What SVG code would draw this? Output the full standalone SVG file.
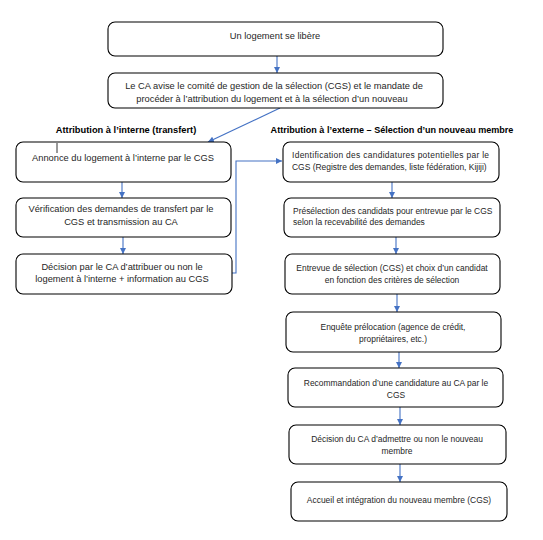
<svg xmlns="http://www.w3.org/2000/svg" width="543" height="540" viewBox="0 0 543 540">
<defs>
<marker id="ah" markerUnits="userSpaceOnUse" markerWidth="6" markerHeight="6" viewBox="0 0 6 6" refX="6" refY="3" orient="auto">
<path d="M0,0 L6,3 L0,6 z" fill="#4472C4"/>
</marker>
</defs>
<style>
.box{fill:#fff;stroke:#000;stroke-width:1.1}
.t{font-family:"Liberation Sans",Arial,sans-serif;font-size:9.3px;fill:#262626}
.s{font-size:8.45px}
.c{text-anchor:middle}
.h{font-family:"Liberation Sans",Arial,sans-serif;font-size:9.3px;font-weight:bold;fill:#000;text-anchor:middle}
.con{fill:none;stroke:#4472C4;stroke-width:1.1;marker-end:url(#ah)}
</style>
<rect width="543" height="540" fill="#fff"/>
<g id="connectors">
<line class="con" x1="277" y1="56" x2="277" y2="73"/>
<line class="con" x1="280" y1="108" x2="208" y2="142"/>
<line class="con" x1="122" y1="182" x2="122" y2="198"/>
<line class="con" x1="123" y1="237" x2="123" y2="254"/>
<polyline class="con" points="232,273 236,273 236,161 282,161"/>
<line class="con" x1="392" y1="182" x2="392" y2="198"/>
<line class="con" x1="396" y1="237" x2="396" y2="254"/>
<line class="con" x1="397" y1="294" x2="397" y2="312"/>
<line class="con" x1="399" y1="352" x2="399" y2="368"/>
<line class="con" x1="400" y1="407" x2="400" y2="425"/>
<line class="con" x1="400" y1="464" x2="400" y2="482"/>
</g>
<g id="labels">
<text class="h" x="126" y="133">Attribution à l’interne (transfert)</text>
<text class="h" x="392" y="133" style="font-size:9.05px">Attribution à l’externe – Sélection d’un nouveau membre</text>
</g>
<g id="n1">
<rect class="box" x="108" y="22" width="335" height="34" rx="7"/>
<text class="t c" x="275" y="39">Un logement se libère</text>
</g>
<g id="n2">
<rect class="box" x="108" y="73" width="335" height="35" rx="7"/>
<text class="t c" x="274" y="89">Le CA avise le comité de gestion de la sélection (CGS) et le mandate de</text>
<text class="t c" x="272" y="102">procéder à l’attribution du logement et à la sélection d’un nouveau</text>
</g>
<g id="l1">
<rect class="box" x="16" y="142" width="215" height="40" rx="7"/>
<text class="t c" x="123" y="161">Annonce du logement à l’interne par le CGS</text>
<line x1="57" y1="143" x2="57" y2="153" stroke="#000" stroke-width="0.8"/>
</g>
<g id="l2">
<rect class="box" x="16" y="198" width="215" height="39" rx="7"/>
<text class="t c" x="121" y="212">Vérification des demandes de transfert par le</text>
<text class="t c" x="121" y="225">CGS et transmission au CA</text>
</g>
<g id="l3">
<rect class="box" x="16" y="254" width="216" height="40" rx="7"/>
<text class="t c" x="122" y="270">Décision par le CA d’attribuer ou non le</text>
<text class="t c" x="122" y="282">logement à l’interne + information au CGS</text>
</g>
<g id="r1">
<rect class="box" x="283" y="142" width="216" height="40" rx="7"/>
<text class="t s" x="292" y="158" textLength="197" lengthAdjust="spacing">Identification des candidatures potentielles par le</text>
<text class="t s" x="292" y="170">CGS (Registre des demandes, liste fédération, Kijiji)</text>
</g>
<g id="r2">
<rect class="box" x="284" y="198" width="216" height="39" rx="7"/>
<text class="t s" x="293" y="214">Présélection des candidats pour entrevue par le CGS</text>
<text class="t s" x="293" y="225">selon la recevabilité des demandes</text>
</g>
<g id="r3">
<rect class="box" x="285" y="254" width="215" height="40" rx="7"/>
<text class="t s c" x="392" y="271">Entrevue de sélection (CGS) et choix d’un candidat</text>
<text class="t s c" x="392" y="283">en fonction des critères de sélection</text>
</g>
<g id="r4">
<rect class="box" x="286" y="312" width="215" height="40" rx="7"/>
<text class="t s c" x="393" y="330">Enquête prélocation (agence de crédit,</text>
<text class="t s c" x="393" y="342">propriétaires, etc.)</text>
</g>
<g id="r5">
<rect class="box" x="288" y="368" width="215" height="39" rx="7"/>
<text class="t s c" x="396" y="386">Recommandation d’une candidature au CA par le</text>
<text class="t s c" x="396" y="398">CGS</text>
</g>
<g id="r6">
<rect class="box" x="289" y="425" width="217" height="39" rx="7"/>
<text class="t s c" x="397" y="442">Décision du CA d’admettre ou non le nouveau</text>
<text class="t s c" x="397" y="454">membre</text>
</g>
<g id="r7">
<rect class="box" x="291" y="482" width="216" height="39" rx="7"/>
<text class="t s c" x="399" y="503">Accueil et intégration du nouveau membre (CGS)</text>
</g>
</svg>
